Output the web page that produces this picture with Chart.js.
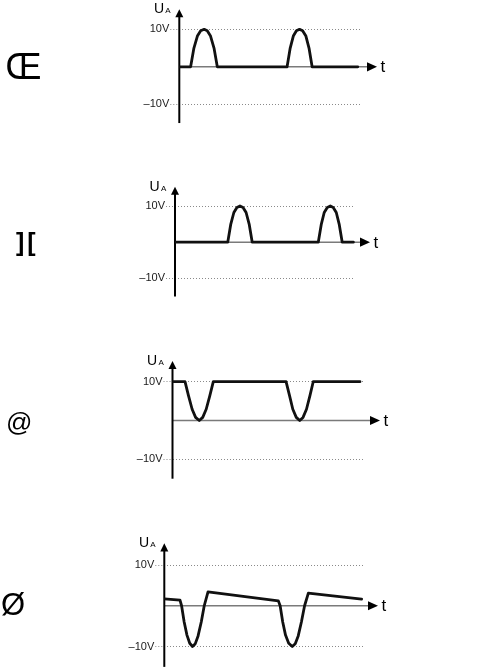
<!DOCTYPE html>
<html>
<head>
<meta charset="utf-8">
<script src="https://cdn.jsdelivr.net/npm/chart.js@4"></script>
<style>
  html, body { margin: 0; padding: 0; background: #fff; overflow: hidden; }
  #wrap { position: relative; width: 493px; height: 668px; }
  canvas { position: absolute; left: 0; top: 0; }
  .sym { position: absolute; font-family: "Liberation Sans", Arial, sans-serif; line-height: 1; color: #000; white-space: nowrap; }
</style>
</head>
<body>
<div id="wrap">
  <canvas id="c1" width="493" height="668"></canvas>
  <canvas id="c2" width="493" height="668"></canvas>
  <canvas id="c3" width="493" height="668"></canvas>
  <canvas id="c4" width="493" height="668"></canvas>
  <div class="sym" style="left:5.5px;top:48.6px;font-size:36px">Œ</div>
  <div class="sym" style="left:16px;top:229.8px;font-size:25px;font-weight:bold;letter-spacing:3px">][</div>
  <div class="sym" style="left:6px;top:408.9px;font-size:26px">@</div>
  <div class="sym" style="left:1px;top:589.3px;font-size:31px">Ø</div>
</div>
<script>
  // Achsenbeschriftung U-Achse
  const yTicks = [-10, 10];
  const yTickLabels = ['–10V', '10V'];

  // Kurve 1: positive Halbwellen
  const p1T = [0, 6.2, 8.0, 9.9, 11.7, 13.6, 15.3, 17.1, 19.0, 20.8, 59.0, 60.7, 62.4, 64.1, 65.8, 67.5, 69.3, 71.0, 72.7, 97.7];
  const p1U = [0, 0, 5.0, 8.2, 9.6, 10, 9.6, 8.2, 5.0, 0, 0, 5.0, 8.2, 9.6, 10, 9.6, 8.2, 5.0, 0, 0];

  // Kurve 2: positive Halbwellen, spaeter
  const p2T = [0, 29.3, 31.0, 32.7, 34.4, 36.1, 37.8, 39.5, 41.2, 42.9, 79.6, 81.3, 82.9, 84.6, 86.3, 87.9, 89.6, 91.2, 92.9, 99.1];
  const p2U = [0, 0, 5.0, 8.2, 9.6, 10, 9.6, 8.2, 5.0, 0, 0, 5.0, 8.2, 9.6, 10, 9.6, 8.2, 5.0, 0, 0];

  // Kurve 3: 10V mit Einbruechen auf 0
  const p3T = [0, 6.5, 8.3, 10.2, 12.0, 13.9, 15.7, 17.5, 19.4, 21.2, 59.0, 60.8, 62.5, 64.3, 66.1, 67.8, 69.6, 71.4, 73.1, 97.4];
  const p3U = [10, 10, 6.4, 2.9, 0.8, 0, 0.8, 2.9, 6.4, 10, 10, 6.4, 2.9, 0.8, 0, 0.8, 2.9, 6.4, 10, 10];

  // Kurve 4: Entladung mit negativen Halbwellen
  const p4T = [0, 7.9, 8.7, 10.0, 11.4, 12.8, 14.2, 15.6, 17.0, 18.6, 20.1, 22.0, 57.4, 58.3, 59.6, 61.0, 62.6, 64.4, 65.9, 67.4, 69.0, 70.6, 72.5, 99.3];
  const p4U = [1.7, 1.4, 0, -4, -7.2, -9.2, -10, -9.3, -7.4, -4.0, 0, 3.4, 1.2, 0, -4, -7.2, -9.2, -10, -9.3, -7.4, -4.0, 0, 3.1, 1.65];

  const FONT = '"Liberation Sans", Arial, sans-serif';
  const GRID = '#8a8a8a';

  // Lage der Diagramme auf der Seite (Pixel)
  const panels = [
    { id: 'c1', t: p1T, u: p1U, axisX: 179.3, right: 362, y10: 29.3, yM10: 104.3 },
    { id: 'c2', t: p2T, u: p2U, axisX: 175, right: 355, y10: 206, yM10: 278.3 },
    { id: 'c3', t: p3T, u: p3U, axisX: 172.5, right: 365, y10: 381.7, yM10: 459.3 },
    { id: 'c4', t: p4T, u: p4U, axisX: 164.3, right: 363, y10: 565, yM10: 646.5 }
  ];

  // Achsen mit Pfeilen und Beschriftung U_A / t
  const axesPlugin = {
    id: 'axes',
    beforeDatasetsDraw(chart) {
      const { ctx, chartArea: a, scales: { y } } = chart;
      const y0 = y.getPixelForValue(0);
      ctx.save();
      ctx.strokeStyle = '#7a7a7a';
      ctx.lineWidth = 1.5;
      ctx.beginPath();
      ctx.moveTo(a.left, y0);
      ctx.lineTo(a.right + 6, y0);
      ctx.stroke();
      ctx.fillStyle = '#000';
      ctx.beginPath();
      ctx.moveTo(a.right + 5, y0 - 4.6);
      ctx.lineTo(a.right + 15, y0);
      ctx.lineTo(a.right + 5, y0 + 4.6);
      ctx.closePath();
      ctx.fill();

      ctx.strokeStyle = '#000';
      ctx.lineWidth = 2;
      ctx.beginPath();
      ctx.moveTo(a.left, a.bottom);
      ctx.lineTo(a.left, a.top + 4);
      ctx.stroke();
      ctx.beginPath();
      ctx.moveTo(a.left - 4, a.top + 6.8);
      ctx.lineTo(a.left, a.top - 1.3);
      ctx.lineTo(a.left + 4, a.top + 6.8);
      ctx.closePath();
      ctx.fill();
      ctx.restore();
    },
    afterDraw(chart) {
      const { ctx, chartArea: a, scales: { y } } = chart;
      const y0 = y.getPixelForValue(0);
      ctx.save();
      ctx.fillStyle = '#000';
      ctx.textAlign = 'left';
      ctx.textBaseline = 'alphabetic';
      ctx.font = '14px ' + FONT;
      ctx.fillText('U', a.left - 25.4, a.top + 2.8);
      ctx.font = '8px ' + FONT;
      ctx.fillText('A', a.left - 14, a.top + 2.8);
      ctx.font = '17px ' + FONT;
      ctx.fillText('t', a.right + 18.5, y0 + 5.5);
      ctx.restore();
    }
  };

  panels.forEach(p => {
    const pxPerV = (p.yM10 - p.y10) / 20;
    const top = p.y10 - 5 * pxPerV;
    const bottom = p.yM10 + 5 * pxPerV;

    new Chart(document.getElementById(p.id), {
      type: 'line',
      data: {
        datasets: [{
          data: p.t.map((v, i) => ({ x: v, y: p.u[i] })),
          borderColor: '#111',
          borderWidth: 2.8,
          borderJoinStyle: 'round',
          borderCapStyle: 'round',
          pointRadius: 0,
          tension: 0,
          fill: false
        }]
      },
      options: {
        responsive: false,
        animation: false,
        events: [],
        layout: {
          padding: { left: p.axisX - 50, right: 493 - p.right, top: top, bottom: 668 - bottom }
        },
        plugins: { legend: { display: false }, tooltip: { enabled: false } },
        scales: {
          x: { type: 'linear', display: false, min: 0, max: 100 },
          y: {
            type: 'linear',
            min: -15,
            max: 15,
            afterBuildTicks: s => { s.ticks = yTicks.map(v => ({ value: v })); },
            afterFit: s => { s.width = 50; s.paddingTop = 0; s.paddingBottom = 0; },
            ticks: {
              callback: (v, i) => yTickLabels[i],
              font: { size: 11, family: FONT },
              color: '#1a1a1a',
              padding: 1
            },
            grid: { color: GRID, lineWidth: 1, tickLength: 9, tickColor: GRID, tickBorderDash: [1, 2] },
            border: { display: false, dash: [1, 2] }
          }
        }
      },
      plugins: [axesPlugin]
    });
  });
</script>
</body>
</html>
